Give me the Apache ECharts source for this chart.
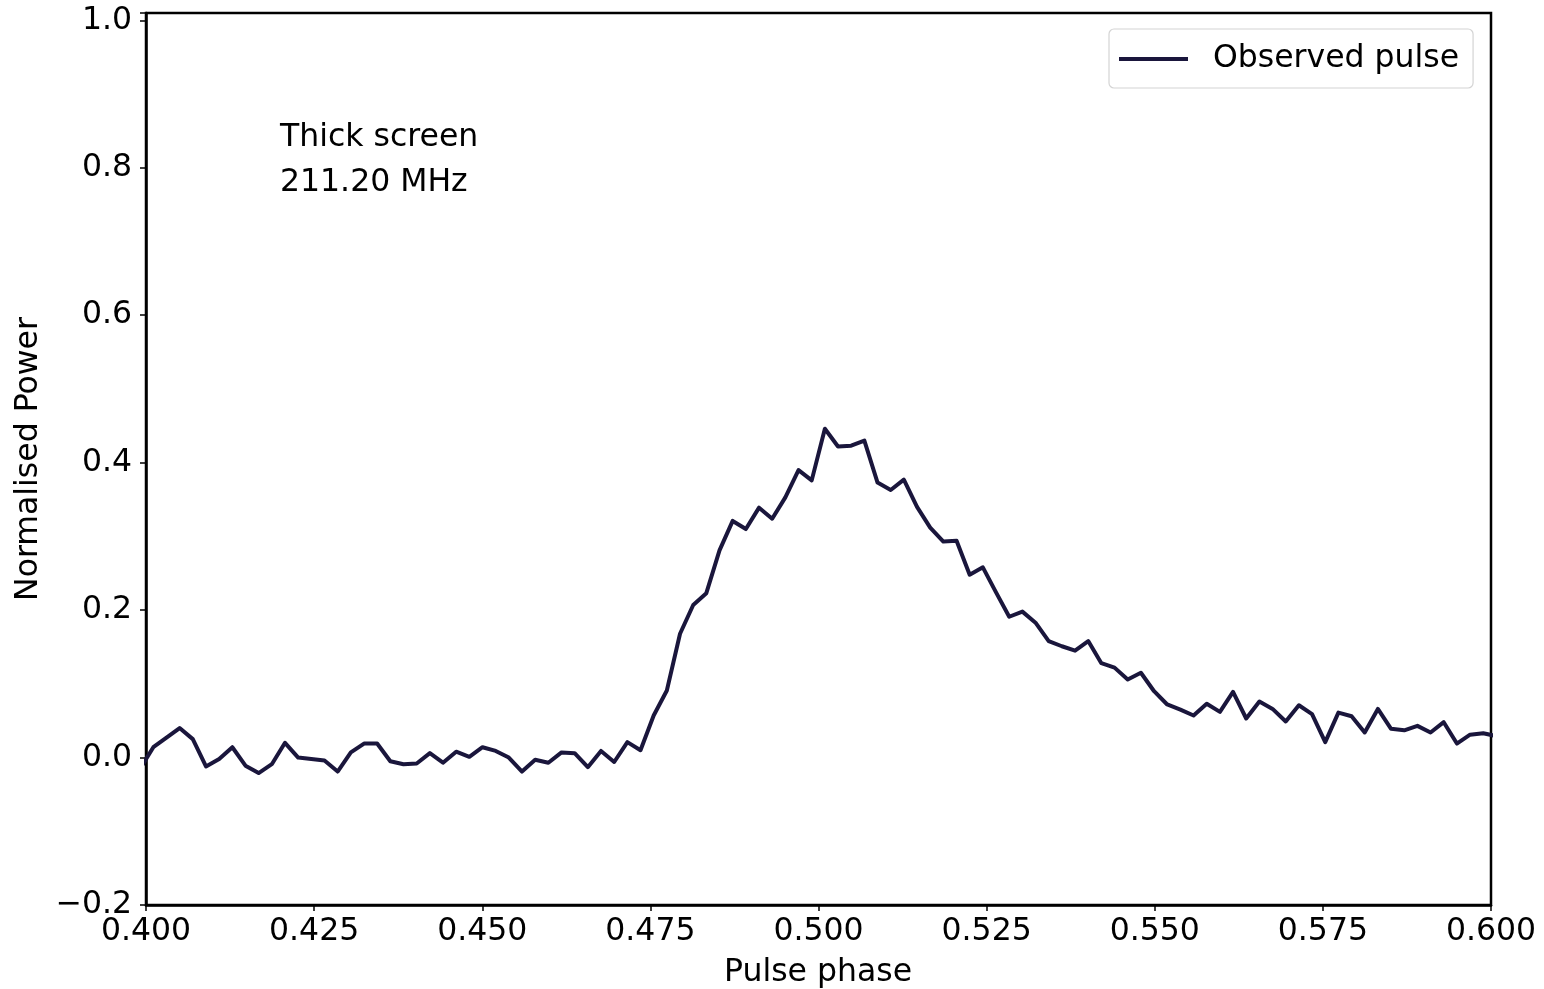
<!DOCTYPE html>
<html>
<head>
<meta charset="utf-8">
<title>Observed pulse profile</title>
<script src="https://cdn.jsdelivr.net/npm/echarts@6/dist/echarts.min.js"></script>
<style>
  html, body { margin: 0; padding: 0; background: #ffffff; }
  #chart { width: 1544px; height: 989px; }
</style>
</head>
<body>
<div id="chart"></div>
<script>
// Pulse phase of each profile bin
const phase = [
  0.39913, 0.40109, 0.40305, 0.40500, 0.40696, 0.40892, 0.41088, 0.41284, 0.41479, 0.41675,
  0.41871, 0.42067, 0.42263, 0.42458, 0.42654, 0.42850, 0.43046, 0.43242, 0.43437, 0.43633,
  0.43829, 0.44025, 0.44221, 0.44416, 0.44612, 0.44808, 0.45004, 0.45200, 0.45395, 0.45591,
  0.45787, 0.45983, 0.46179, 0.46374, 0.46570, 0.46766, 0.46962, 0.47158, 0.47353, 0.47549,
  0.47745, 0.47941, 0.48137, 0.48332, 0.48528, 0.48724, 0.48920, 0.49116, 0.49311, 0.49507,
  0.49703, 0.49899, 0.50095, 0.50290, 0.50486, 0.50682, 0.50878, 0.51074, 0.51269, 0.51465,
  0.51661, 0.51857, 0.52053, 0.52248, 0.52444, 0.52640, 0.52836, 0.53032, 0.53227, 0.53423,
  0.53619, 0.53815, 0.54011, 0.54206, 0.54402, 0.54598, 0.54794, 0.54990, 0.55185, 0.55381,
  0.55577, 0.55773, 0.55969, 0.56164, 0.56360, 0.56556, 0.56752, 0.56948, 0.57143, 0.57339,
  0.57535, 0.57731, 0.57927, 0.58122, 0.58318, 0.58514, 0.58710, 0.58906, 0.59101, 0.59297,
  0.59493, 0.59689, 0.59885, 0.60080
];

// Normalised power of the observed pulse in each bin
const observedPulse = [
  -0.015, 0.014, 0.027, 0.040, 0.025, -0.012, -0.002, 0.014, -0.011, -0.021,
  -0.009, 0.020, 0.000, -0.002, -0.004, -0.019, 0.007, 0.019, 0.019, -0.005,
  -0.009, -0.008, 0.006, -0.007, 0.008, 0.001, 0.014, 0.009, 0.000, -0.019,
  -0.003, -0.007, 0.007, 0.006, -0.013, 0.009, -0.006, 0.021, 0.010, 0.057,
  0.091, 0.168, 0.207, 0.223, 0.281, 0.321, 0.310, 0.339, 0.324, 0.353,
  0.390, 0.376, 0.446, 0.422, 0.423, 0.430, 0.373, 0.363, 0.377, 0.340,
  0.312, 0.293, 0.294, 0.248, 0.258, 0.224, 0.191, 0.198, 0.183, 0.158,
  0.151, 0.145, 0.158, 0.128, 0.122, 0.106, 0.115, 0.090, 0.072, 0.065,
  0.057, 0.073, 0.062, 0.089, 0.053, 0.076, 0.066, 0.049, 0.071, 0.059,
  0.021, 0.061, 0.056, 0.034, 0.066, 0.039, 0.037, 0.043, 0.034, 0.048,
  0.019, 0.031, 0.033, 0.029
];

const seriesName = 'Observed pulse';
const annotationLines = ['Thick screen', '211.20 MHz'];
const xTitle = 'Pulse phase';
const yTitle = 'Normalised Power';

const FONT = 'DejaVu Sans';
const FS = 31.5;
const LINE_COLOR = '#1a163c';

const points = phase.map((p, i) => [p, observedPulse[i]]);

const chart = echarts.init(document.getElementById('chart'), null, { renderer: 'canvas' });

const grid = { left: 146, right: 53, top: 13, bottom: 84 };

chart.setOption({
  animation: false,
  backgroundColor: '#ffffff',
  grid: Object.assign({
    show: true,
    borderColor: '#000000',
    borderWidth: 2.5,
    backgroundColor: 'transparent',
    containLabel: false
  }, grid),
  xAxis: {
    type: 'value',
    min: 0.4,
    max: 0.6,
    interval: 0.025,
    axisLine: { show: true, onZero: false, lineStyle: { color: '#000', width: 2.5 } },
    axisTick: { show: true, inside: false, length: 6, lineStyle: { color: '#000', width: 1.5 } },
    splitLine: { show: false },
    axisLabel: {
      margin: 11,
      color: '#000',
      fontFamily: FONT,
      fontSize: FS,
      showMinLabel: true,
      showMaxLabel: true,
      formatter: v => v.toFixed(3)
    }
  },
  yAxis: {
    type: 'value',
    min: -0.2,
    max: 1.01,
    interval: 0.2,
    axisLine: { show: true, onZero: false, lineStyle: { color: '#000', width: 2.5 } },
    axisTick: { show: true, inside: false, length: 6, lineStyle: { color: '#000', width: 1.5 } },
    splitLine: { show: false },
    axisLabel: {
      margin: 14,
      color: '#000',
      fontFamily: FONT,
      fontSize: FS,
      formatter: v => {
        if (Math.abs(v * 5 - Math.round(v * 5)) > 1e-6) return '';
        return v.toFixed(1).replace('-', '\u2212');
      }
    }
  },
  legend: {
    show: true,
    left: 1109,
    top: 29,
    orient: 'horizontal',
    padding: [14, 14, 13, 10],
    backgroundColor: 'rgba(255,255,255,0.8)',
    borderColor: '#d4d4d4',
    borderWidth: 1.2,
    borderRadius: 5,
    itemWidth: 69,
    itemHeight: 4,
    data: [{ name: seriesName, icon: 'rect', itemStyle: { color: LINE_COLOR } }],
    textStyle: {
      color: '#000',
      fontFamily: FONT,
      fontSize: FS,
      padding: [0, 0, 0, 20]
    }
  },
  series: [{
    name: seriesName,
    type: 'line',
    data: points,
    showSymbol: false,
    symbol: 'none',
    clip: true,
    lineStyle: { color: LINE_COLOR, width: 4, join: 'round', cap: 'round' },
    itemStyle: { color: LINE_COLOR },
    z: 3
  }],
  graphic: [
    {
      type: 'text',
      left: 280,
      top: 122,
      style: {
        text: annotationLines[0],
        fill: '#000',
        font: FS + 'px "' + FONT + '"'
      }
    },
    {
      type: 'text',
      left: 280,
      top: 167,
      style: {
        text: annotationLines[1],
        fill: '#000',
        font: FS + 'px "' + FONT + '"'
      }
    },
    {
      type: 'text',
      x: 818,
      y: 973,
      style: {
        text: xTitle,
        fill: '#000',
        font: FS + 'px "' + FONT + '"',
        align: 'center',
        verticalAlign: 'middle',
        textAlign: 'center',
        textVerticalAlign: 'middle'
      }
    },
    {
      type: 'text',
      x: 29,
      y: 459,
      rotation: Math.PI / 2,
      style: {
        text: yTitle,
        fill: '#000',
        font: FS + 'px "' + FONT + '"',
        align: 'center',
        verticalAlign: 'middle',
        textAlign: 'center',
        textVerticalAlign: 'middle'
      }
    }
  ]
});
</script>
</body>
</html>
